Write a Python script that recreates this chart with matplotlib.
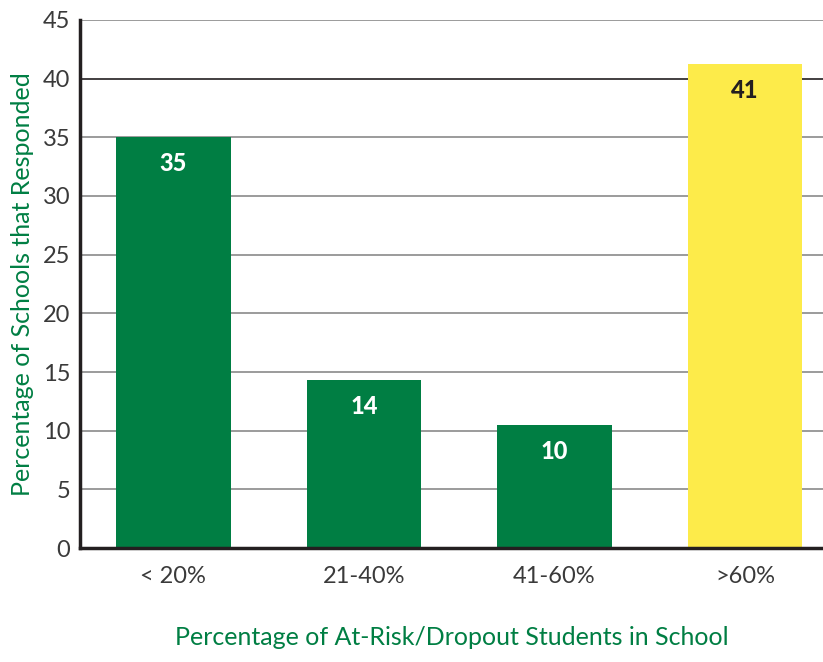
import numpy as np
import matplotlib.pyplot as plt

categories = ['< 20%', '21-40%', '41-60%', '>60%']
values = [35, 14.3, 10.5, 41.2]
labels = ['35', '14', '10', '41']
colors = ['#007E43', '#007E43', '#007E43', '#FDEB4A']
label_colors = ['white', 'white', 'white', '#231F20']

plt.rcParams['font.family'] = ['Lato', 'DejaVu Sans']
green = '#007E43'

fig = plt.figure(figsize=(8.23, 6.62), dpi=100)
ax = fig.add_axes([0.0972, 0.172, 0.9028, 0.798])

x = np.arange(len(categories))
ax.set_axisbelow(True)
for y in range(5, 46, 5):
    ax.axhline(y, color='#231F20' if y == 40 else '#8a8a8a', lw=1.2, zorder=0)
bars = ax.bar(x, values, width=0.6, color=colors, zorder=2)

for xi, v, lab, c in zip(x, values, labels, label_colors):
    ax.annotate(lab, (xi, v), xytext=(0, -19), textcoords='offset points',
                ha='center', va='center', fontsize=17, fontweight='black', color=c)

ax.set_xlim(-0.49, 3.41)
ax.set_ylim(0, 45)
ax.set_yticks(range(0, 46, 5))
ax.set_xticks(x)
ax.set_xticklabels(categories)
ax.tick_params(axis='both', length=0, labelsize=17, labelcolor='#3a3a3a')
ax.tick_params(axis='y', pad=7)
ax.tick_params(axis='x', pad=13)

for s in ['top', 'right']:
    ax.spines[s].set_visible(False)
for s in ['left', 'bottom']:
    ax.spines[s].set_color('#231F20')
    ax.spines[s].set_linewidth(2.5)

ax.set_ylabel('Percentage of Schools that Responded', color=green, fontsize=18, labelpad=6)
ax.set_xlabel('Percentage of At-Risk/Dropout Students in School', color=green, fontsize=18, labelpad=28)

fig.savefig('out.png', dpi=100)
